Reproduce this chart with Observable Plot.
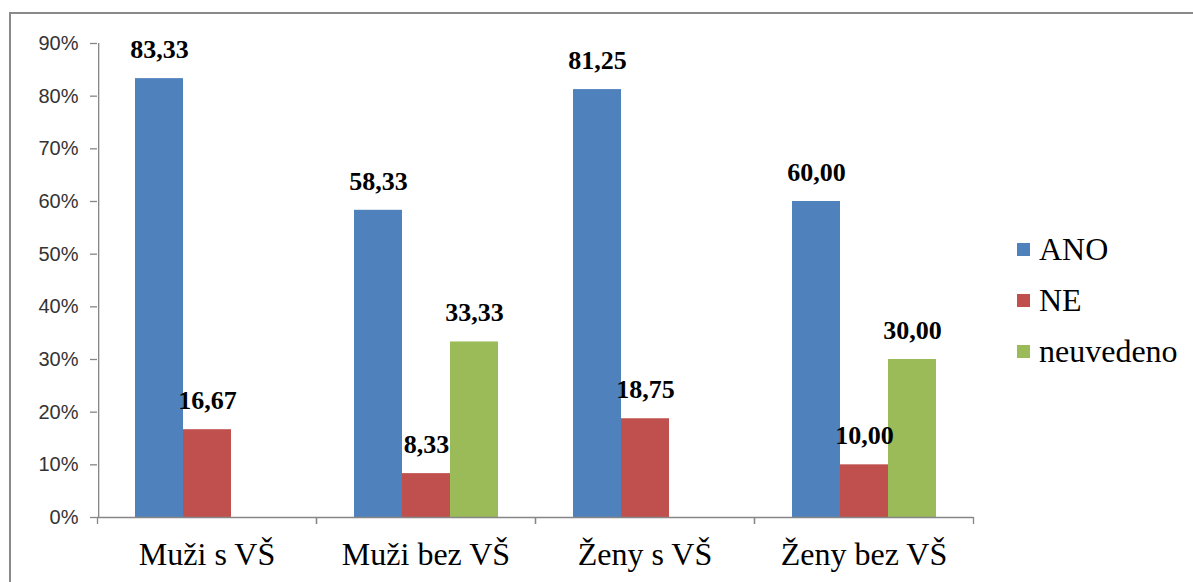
<!DOCTYPE html>
<html>
<head>
<meta charset="utf-8">
<script src="https://cdn.jsdelivr.net/npm/d3@7"></script>
<script src="https://cdn.jsdelivr.net/npm/@observablehq/plot@0.6"></script>
<style>
  html, body { margin: 0; padding: 0; background: #fff; }
  body { width: 1193px; height: 582px; position: relative; overflow: hidden; }
  #border { position: absolute; left: 9px; top: 12px; width: 1400px; height: 800px; border: 2px solid #8a8a8a; box-sizing: border-box; }
  #chart { position: absolute; left: 0; top: 0; }
  #legend { position: absolute; left: 1017px; top: 224px; font-family: "Liberation Serif", "Times New Roman", serif; font-size: 32px; color: #000; }
  .item { display: flex; align-items: center; height: 51px; }
  .sw { width: 13px; height: 13px; margin-right: 9px; }
</style>
</head>
<body>
<div id="border"></div>
<div id="chart"></div>
<div id="legend"></div>
<script>
const categories = ["Muži s VŠ", "Muži bez VŠ", "Ženy s VŠ", "Ženy bez VŠ"];
const seriesNames = ["ANO", "NE", "neuvedeno"];
const seriesColors = ["#4F81BD", "#C0504D", "#9BBB59"];
const ano = [83.33, 58.33, 81.25, 60.00];
const ne = [16.67, 8.33, 18.75, 10.00];
const neuvedeno = [null, 33.33, null, 30.00];
const yTicks = [0, 10, 20, 30, 40, 50, 60, 70, 80, 90];

const seriesValues = [ano, ne, neuvedeno];
const rows = [];
categories.forEach((c, i) => {
  seriesNames.forEach((s, j) => {
    const v = seriesValues[j][i];
    if (v != null) rows.push({category: c, series: s, value: v});
  });
});

const W = 1193, H = 582;
const mL = 97, mR = 220, mT = 43, mB = 65;
const facetW = (W - mL - mR) / categories.length;
const outerPad = 0.75;
const step = facetW / (seriesNames.length + 2 * outerPad);
const fmt = v => v.toFixed(2).replace(".", ",");
const axisGray = "#868686";

const chart = Plot.plot({
  width: W,
  height: H,
  marginLeft: mL,
  marginRight: mR,
  marginTop: mT,
  marginBottom: mB,
  style: {background: "transparent", overflow: "visible"},
  fx: {domain: categories, padding: 0, label: null},
  x: {domain: seriesNames, paddingInner: 0, paddingOuter: outerPad, axis: null},
  y: {domain: [0, 90], label: null},
  color: {domain: seriesNames, range: seriesColors},
  marks: [
    Plot.barY(rows, {fx: "category", x: "series", y: "value", fill: "series"}),
    Plot.text(rows, {
      fx: "category", x: "series", y: "value", text: d => fmt(d.value),
      dy: -29, fontFamily: "Liberation Serif, Times New Roman, serif",
      fontWeight: "bold", fontSize: 26, fill: "#000", lineAnchor: "middle"
    }),
    Plot.ruleY([0], {stroke: axisGray, strokeWidth: 1.3}),
    // vertical y-axis line at the left edge of the first category
    Plot.ruleX([categories[0]], {
      fx: d => d, x: () => seriesNames[0], y1: 0, y2: 90,
      dx: -(outerPad + 0.5) * step, stroke: axisGray, strokeWidth: 1.3
    }),
    Plot.axisY({
      ticks: yTicks, tickFormat: d => d + "%", tickSize: 7, tickPadding: 12,
      stroke: axisGray, strokeWidth: 1.3, fill: "#333",
      fontFamily: "Liberation Sans, Arial, sans-serif", fontSize: 20, label: null
    }),
    Plot.axisFx({
      anchor: "bottom", tickSize: 0, tickPadding: 25, label: null,
      fontFamily: "Liberation Serif, Times New Roman, serif", fontSize: 32, fill: "#000"
    }),
    Plot.axisFx({
      anchor: "bottom", tickSize: 7, tickFormat: () => "", label: null,
      stroke: axisGray, strokeWidth: 1.3, dx: -facetW / 2
    }),
    Plot.axisFx({
      anchor: "bottom", tickSize: 7, tickFormat: () => "", label: null,
      stroke: axisGray, strokeWidth: 1.3, dx: facetW / 2
    })
  ]
});
document.getElementById("chart").appendChild(chart);

const legend = document.getElementById("legend");
seriesNames.forEach((s, i) => {
  const item = document.createElement("div");
  item.className = "item";
  const sw = document.createElement("div");
  sw.className = "sw";
  sw.style.background = seriesColors[i];
  const t = document.createElement("span");
  t.textContent = s;
  item.appendChild(sw);
  item.appendChild(t);
  legend.appendChild(item);
});
</script>
</body>
</html>
